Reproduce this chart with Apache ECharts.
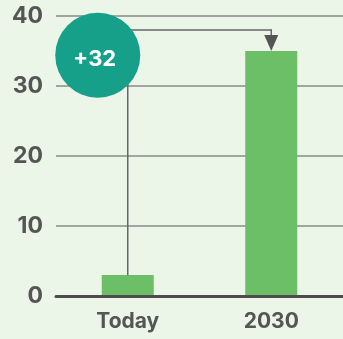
<!DOCTYPE html>
<html>
<head>
<meta charset="utf-8">
<script src="https://cdn.jsdelivr.net/npm/echarts@6/dist/echarts.min.js"></script>
<style>
  html, body { margin: 0; padding: 0; background: #ebf5e8; }
  #chart { width: 343px; height: 339px; }
</style>
</head>
<body>
<div id="chart"></div>
<script>
// Categories and values
const categories = ['Today', '2030'];
const values = [3, 35];
const yTicks = [0, 10, 20, 30, 40];
// Elbow level of the connector between the two bars
const connectorLevel = 38;
// Badge: centre level on the y scale and its text (the growth between the bars)
const badgeLevel = 34.4;
const badgeText = '+' + (values[1] - values[0]);

const chart = echarts.init(document.getElementById('chart'), null, { renderer: 'canvas' });

const textColor = '#555555';
const font = 'Inter, Roboto, sans-serif';

chart.setOption({
  backgroundColor: '#ebf5e8',
  animation: false,
  grid: { left: 56, right: -2, top: 16, bottom: 43, containLabel: false },
  xAxis: {
    type: 'category',
    data: categories,
    axisTick: { show: false },
    axisLine: { show: true, lineStyle: { color: '#4d4d4d', width: 3 } },
    axisLabel: { color: textColor, fontSize: 21, fontWeight: 'bold', fontFamily: font, margin: 15 },
    z: 5
  },
  yAxis: {
    type: 'value',
    min: yTicks[0],
    max: yTicks[yTicks.length - 1],
    interval: 10,
    axisLine: { show: false },
    axisTick: { show: false },
    splitLine: { lineStyle: { color: '#8a8a8a', width: 1.5 } },
    axisLabel: { color: textColor, fontSize: 23, fontWeight: 'bold', fontFamily: font, margin: 13 }
  },
  series: [
    {
      type: 'bar',
      data: values,
      barWidth: 52,
      itemStyle: { color: '#6cbf66' },
      z: 2
    },
    {
      type: 'custom',
      clip: false,
      z: 10,
      data: [[0]],
      renderItem: function (params, api) {
        const start = api.coord([0, values[0]]);
        const up = api.coord([0, connectorLevel]);
        const across = api.coord([1, connectorLevel]);
        const tip = api.coord([1, values[1]]);
        const headH = 16, headW = 14;
        const badge = api.coord([0, badgeLevel]);
        const cx = badge[0] - 30, cy = badge[1];
        return {
          type: 'group',
          children: [
            {
              type: 'polyline',
              shape: { points: [start, up, across, [tip[0], tip[1] - headH]] },
              style: { stroke: '#666666', lineWidth: 1.5, fill: null }
            },
            {
              type: 'polygon',
              shape: { points: [[tip[0] - headW / 2, tip[1] - headH], [tip[0] + headW / 2, tip[1] - headH], [tip[0], tip[1]]] },
              style: { fill: '#555555' }
            },
            {
              type: 'circle',
              shape: { cx: cx, cy: cy, r: 42.5 },
              style: { fill: '#16a08a' }
            },
            {
              type: 'text',
              x: cx - 3,
              y: cy + 4,
              style: {
                text: badgeText,
                fill: '#ffffff',
                fontSize: 22,
                fontWeight: 'bold',
                fontFamily: font,
                align: 'center',
                verticalAlign: 'middle'
              }
            }
          ]
        };
      }
    }
  ]
});
</script>
</body>
</html>
